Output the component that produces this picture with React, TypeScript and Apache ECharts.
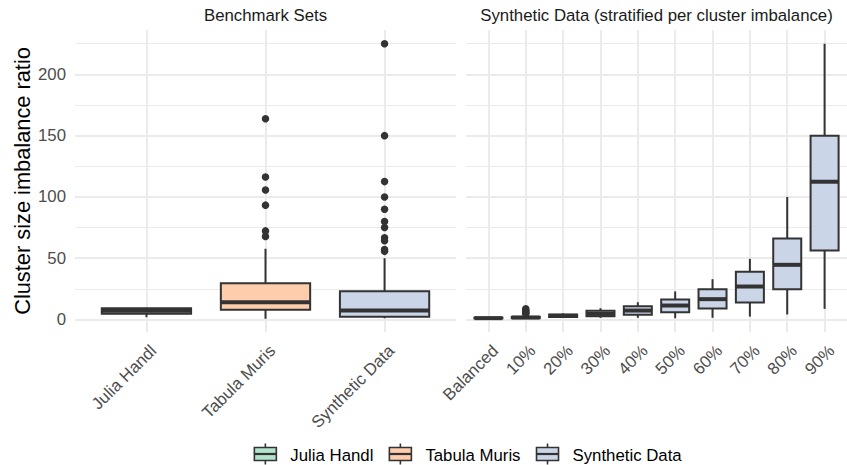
import React, { useEffect, useRef } from "react";
import * as echarts from "echarts";

// ---- data ----
const benchCategories = ["Julia Handl", "Tabula Muris", "Synthetic Data"];
const benchColors = ["#B3E2CD", "#FDCDAC", "#CBD5E8"];
// [min, q1, median, q3, max]
const benchStats = [
  [1.9, 4.6, 7.1, 9.2, 9.5],
  [0.6, 7.9, 14.1, 29.6, 57.7],
  [1.0, 2.2, 7.3, 23.1, 50.0],
];
const benchOutliers = [
  [],
  [163.8, 116.2, 105.6, 93.3, 72.3, 67.8],
  [225, 150, 112.5, 100, 90, 80, 75, 66.7, 64.3, 57.1, 55.6],
];

const synthCategories = ["Balanced", "10%", "20%", "30%", "40%", "50%", "60%", "70%", "80%", "90%"];
const synthColor = "#CBD5E8";
const synthStats = [
  [1.0, 1.0, 1.1, 1.5, 1.8],
  [1.0, 1.1, 1.6, 2.2, 3.8],
  [1.5, 2.0, 3.0, 4.0, 5.0],
  [1.4, 2.7, 4.6, 7.1, 9.2],
  [1.4, 3.8, 7.3, 10.9, 14.1],
  [1.0, 6.0, 11.4, 16.3, 22.9],
  [1.4, 9.0, 16.6, 24.7, 32.9],
  [2.4, 13.9, 26.9, 38.9, 49.5],
  [4.1, 24.7, 44.6, 66.1, 100],
  [8.7, 56.3, 112.4, 150, 225],
];
const synthOutliers = [[], [8.7, 7.6, 6.8, 6.0, 5.2, 4.6], [], [], [], [], [], [], [], []];

const yMajorTicks = [0, 50, 100, 150, 200];
const yMinorTicks = [25, 75, 125, 175, 225];
const yMin = -10.2;
const yMax = 236.2;

const panelTitles = ["Benchmark Sets", "Synthetic Data (stratified per cluster imbalance)"];
const yTitle = "Cluster size imbalance ratio";
const legendLabels = ["Julia Handl", "Tabula Muris", "Synthetic Data"];

// ---- style ----
const FONT = '"Liberation Sans", Arial, Helvetica, sans-serif';
const SMALL = 16.8;
const DARK = "#333333";
const GRID = "#EBEBEB";
const W = 847;
const H = 465;
const P0 = { left: 75, width: 381 };
const P1 = { left: 466, width: 381 };
const PTOP = 30;
const PH = 302;

const boxRender = (params: any, api: any) => {
  const x = api.value(0);
  const lo = api.value(1);
  const q1 = api.value(2);
  const med = api.value(3);
  const q3 = api.value(4);
  const hi = api.value(5);
  const hw = 0.375;
  const c = (xx: number, v: number) => api.coord([xx, v]);
  const tl = c(x - hw, q3);
  const br = c(x + hw, q1);
  const mL = c(x - hw, med);
  const mR = c(x + hw, med);
  const fill = api.visual("color");
  return {
    type: "group",
    children: [
      {
        type: "line",
        shape: { x1: c(x, hi)[0], y1: c(x, hi)[1], x2: c(x, q3)[0], y2: c(x, q3)[1] },
        style: { stroke: DARK, lineWidth: 2 },
      },
      {
        type: "line",
        shape: { x1: c(x, q1)[0], y1: c(x, q1)[1], x2: c(x, lo)[0], y2: c(x, lo)[1] },
        style: { stroke: DARK, lineWidth: 2 },
      },
      {
        type: "rect",
        shape: { x: tl[0], y: tl[1], width: br[0] - tl[0], height: br[1] - tl[1] },
        style: { fill, stroke: DARK, lineWidth: 2 },
      },
      {
        type: "line",
        shape: { x1: mL[0], y1: mL[1], x2: mR[0], y2: mR[1] },
        style: { stroke: DARK, lineWidth: 4 },
      },
    ],
  };
};

export default function App() {
  const ref = useRef<HTMLDivElement>(null);
  useEffect(() => {
    document.body.style.margin = "0";
    if (!ref.current) return;
    const chart = echarts.init(ref.current, undefined, { renderer: "svg" });

    const benchIdx = benchCategories.map((_, i) => i);
    const synthIdx = synthCategories.map((_, i) => i);
    const shift0 = 7 / (P0.width / (benchCategories.length - 1 + 1.2));
    const shift1 = 7 / (P1.width / (synthCategories.length - 1 + 1.2));

    const xAxisBase = (cats: string[], shift: number, gridIndex: number) => ({
      type: "value",
      gridIndex,
      position: "bottom",
      min: -0.6,
      max: cats.length - 0.4,
      axisLine: { show: false },
      axisTick: { show: false, customValues: cats.map((_, i) => i) },
      splitLine: { show: true, lineStyle: { color: GRID, width: 2 } },
      axisLabel: {
        customValues: cats.map((_, i) => i + shift),
        formatter: (v: number) => cats[Math.round(v)] ?? "",
        rotate: 45,
        margin: 16,
        color: "#4D4D4D",
        fontSize: SMALL,
        fontFamily: FONT,
      },
    });

    const yMajor = (gridIndex: number, showLabels: boolean) => ({
      type: "value",
      gridIndex,
      position: "left",
      min: yMin,
      max: yMax,
      axisLine: { show: false },
      axisTick: { show: false, customValues: yMajorTicks },
      splitLine: { show: true, lineStyle: { color: GRID, width: 2 } },
      axisLabel: {
        show: showLabels,
        customValues: yMajorTicks,
        margin: 9,
        color: "#4D4D4D",
        fontSize: SMALL,
        fontFamily: FONT,
      },
      ...(showLabels
        ? {
            name: yTitle,
            nameLocation: "middle",
            nameGap: 42,
            nameTextStyle: { color: "#000000", fontSize: 21.8, fontFamily: FONT },
          }
        : {}),
    });
    const yMinor = (gridIndex: number) => ({
      type: "value",
      gridIndex,
      position: "left",
      min: yMin,
      max: yMax,
      axisLine: { show: false },
      axisTick: { show: false, customValues: yMinorTicks },
      axisLabel: { show: false, customValues: yMinorTicks },
      splitLine: { show: true, lineStyle: { color: GRID, width: 1 } },
    });

    const outlierData = (outs: number[][]) =>
      outs.flatMap((vals, i) => vals.map((v) => [i, v]));

    // legend graphics
    const canvas = document.createElement("canvas");
    const ctx = canvas.getContext("2d")!;
    ctx.font = `${SMALL}px ${FONT}`;
    const keyW = 22;
    const keyGap = 14;
    const itemGap = 16;
    const textW = legendLabels.map((t) => ctx.measureText(t).width);
    const total =
      textW.reduce((a, b) => a + b, 0) + legendLabels.length * (keyW + keyGap) + (legendLabels.length - 1) * itemGap;
    let lx = 468 - total / 2;
    const legendEls: any[] = [];
    const ly = 454;
    legendLabels.forEach((t, i) => {
      const kx = lx;
      legendEls.push(
        { type: "line", shape: { x1: kx + keyW / 2, y1: ly - 10.5, x2: kx + keyW / 2, y2: ly - 6.5 }, style: { stroke: DARK, lineWidth: 1.6 } },
        { type: "line", shape: { x1: kx + keyW / 2, y1: ly + 6.5, x2: kx + keyW / 2, y2: ly + 10.5 }, style: { stroke: DARK, lineWidth: 1.6 } },
        { type: "rect", shape: { x: kx, y: ly - 6.5, width: keyW, height: 13 }, style: { fill: benchColors[i], stroke: DARK, lineWidth: 1.6 } },
        { type: "line", shape: { x1: kx, y1: ly, x2: kx + keyW, y2: ly }, style: { stroke: DARK, lineWidth: 2.2 } },
        {
          type: "text",
          x: kx + keyW + keyGap,
          y: ly + 1,
          style: { text: t, fill: "#000000", fontSize: SMALL, fontFamily: FONT, textAlign: "left", textVerticalAlign: "middle" },
        }
      );
      lx += keyW + keyGap + textW[i] + itemGap;
    });

    chart.setOption({
      animation: false,
      backgroundColor: "#ffffff",
      grid: [
        { left: P0.left, top: PTOP, width: P0.width, height: PH, containLabel: false },
        { left: P1.left, top: PTOP, width: P1.width, height: PH, containLabel: false },
      ],
      xAxis: [xAxisBase(benchCategories, shift0, 0), xAxisBase(synthCategories, shift1, 1)],
      yAxis: [yMinor(0), yMinor(1), yMajor(0, true), yMajor(1, false)],
      graphic: [
        {
          type: "text",
          x: P0.left + P0.width / 2,
          y: 15,
          style: { text: panelTitles[0], fill: "#1A1A1A", fontSize: SMALL, fontFamily: FONT, textAlign: "center", textVerticalAlign: "middle" },
        },
        {
          type: "text",
          x: P1.left + P1.width / 2,
          y: 15,
          style: { text: panelTitles[1], fill: "#1A1A1A", fontSize: SMALL, fontFamily: FONT, textAlign: "center", textVerticalAlign: "middle" },
        },
        ...legendEls,
      ],
      series: [
        {
          type: "custom",
          name: "Benchmark Sets",
          xAxisIndex: 0,
          yAxisIndex: 2,
          renderItem: boxRender,
          encode: { x: 0, y: [1, 2, 3, 4, 5] },
          data: benchStats.map((s, i) => ({ value: [benchIdx[i], ...s], itemStyle: { color: benchColors[i] } })),
          z: 3,
        },
        {
          type: "custom",
          name: "Synthetic Data (stratified)",
          xAxisIndex: 1,
          yAxisIndex: 3,
          renderItem: boxRender,
          encode: { x: 0, y: [1, 2, 3, 4, 5] },
          itemStyle: { color: synthColor },
          data: synthStats.map((s, i) => [synthIdx[i], ...s]),
          z: 3,
        },
        {
          type: "scatter",
          name: "Benchmark outliers",
          xAxisIndex: 0,
          yAxisIndex: 2,
          symbol: "circle",
          symbolSize: 7.5,
          itemStyle: { color: DARK, opacity: 1 },
          data: outlierData(benchOutliers),
          z: 4,
        },
        {
          type: "scatter",
          name: "Synthetic outliers",
          xAxisIndex: 1,
          yAxisIndex: 3,
          symbol: "circle",
          symbolSize: 7.5,
          itemStyle: { color: DARK, opacity: 1 },
          data: outlierData(synthOutliers),
          z: 4,
        },
      ],
    });
    return () => chart.dispose();
  }, []);
  return <div ref={ref} style={{ width: W, height: H }} />;
}
